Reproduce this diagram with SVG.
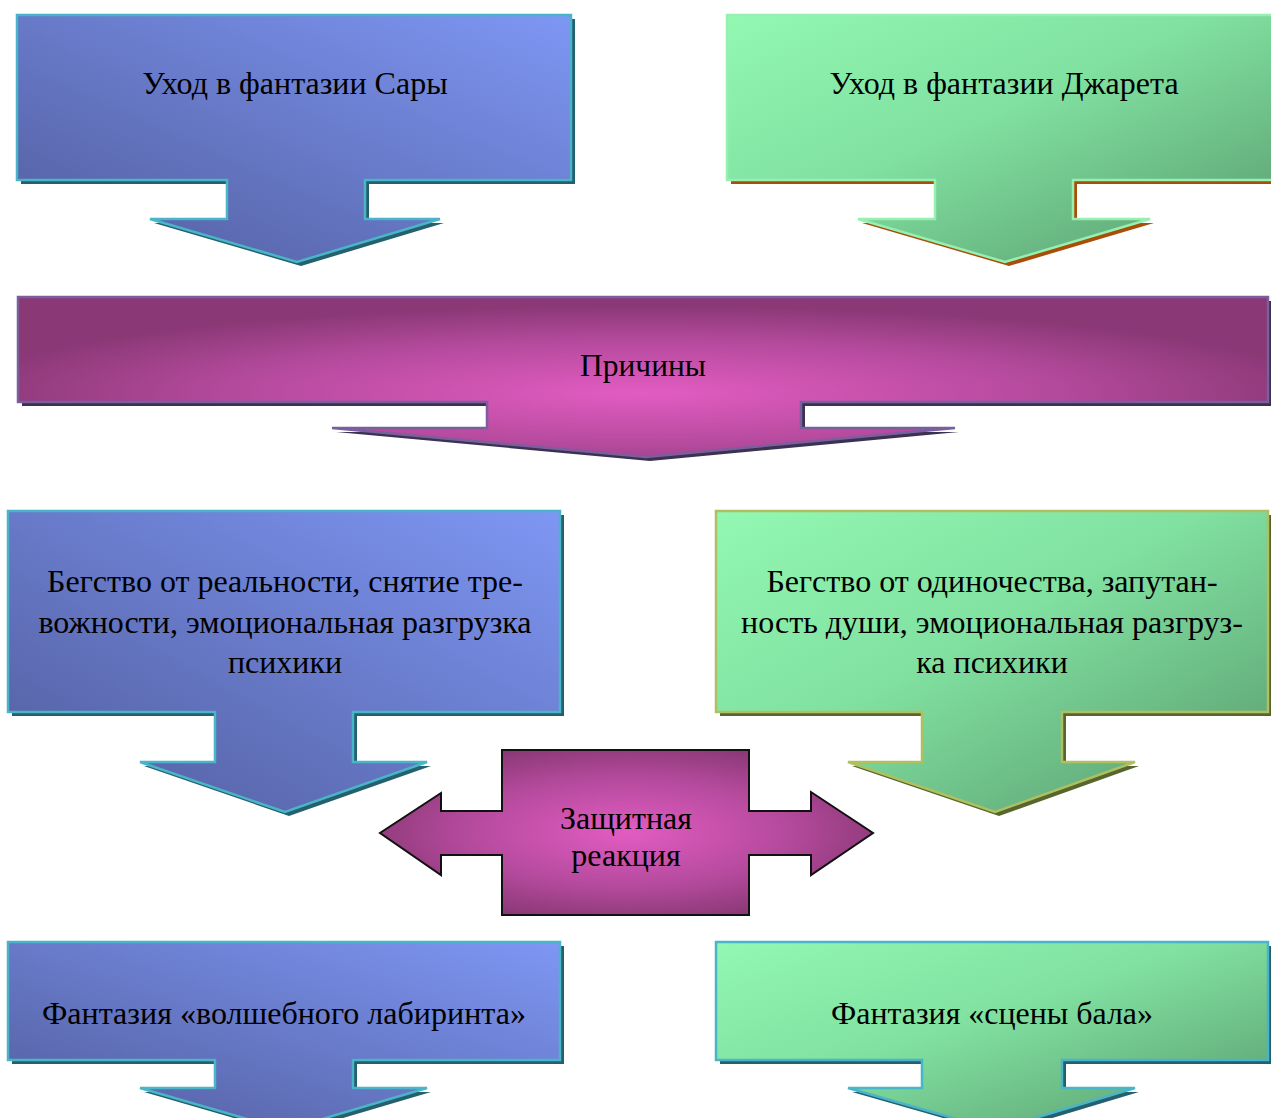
<svg xmlns="http://www.w3.org/2000/svg" width="1271" height="1118" viewBox="0 0 1271 1118">
<defs>
<linearGradient id="gBlue" x1="1" y1="0" x2="0" y2="1">
<stop offset="0" stop-color="#7e97f4"/>
<stop offset="1" stop-color="#515c9c"/>
</linearGradient>
<linearGradient id="gGreen" x1="0" y1="0" x2="1" y2="1">
<stop offset="0" stop-color="#92f8b2"/>
<stop offset="0.45" stop-color="#80e0a0"/>
<stop offset="1" stop-color="#58986c"/>
</linearGradient>
<radialGradient id="gPink" cx="0.5" cy="0.6" r="0.55" fx="0.5" fy="0.6">
<stop offset="0" stop-color="#e25cc2"/>
<stop offset="0.6" stop-color="#b44a9c"/>
<stop offset="1" stop-color="#8a3876"/>
</radialGradient>
<radialGradient id="gPink2" cx="0.5" cy="0.5" r="0.55">
<stop offset="0" stop-color="#e25cc2"/>
<stop offset="0.6" stop-color="#b44a9c"/>
<stop offset="1" stop-color="#8a3876"/>
</radialGradient>
</defs>
<style>
text{font-family:"Liberation Serif","Times New Roman",serif;font-size:32px;fill:#000;text-anchor:middle}
.blue{fill:url(#gBlue);stroke:#4ab4c8;stroke-width:2.5}
.green{fill:url(#gGreen);stroke:#96f0b0;stroke-width:2.5}
.green2{fill:url(#gGreen);stroke:#b0c060;stroke-width:2.5}
.shTeal{fill:#24606e}
.shBrown{fill:#a84e08}
.shOlive{fill:#56662e}
.shDark{fill:#3a3250}
.pink{fill:url(#gPink);stroke:#7a5e9e;stroke-width:2.5}
.pinkB{fill:url(#gPink2);stroke:#111;stroke-width:2}
</style>

<g id="node-sara">
<path class="shTeal" transform="translate(4,4)" d="M17,15 H571 V180 H365 V219 H440 L297,262 L150,219 H227 V180 H17 Z"/>
<path class="blue" d="M17,15 H571 V180 H365 V219 H440 L297,262 L150,219 H227 V180 H17 Z"/>
<text x="295" y="94">Уход в фантазии Сары</text>
</g>

<g id="node-jareth">
<path class="shBrown" transform="translate(4,4)" d="M727,15 H1275 V180 H1073 V219 H1150 L1005,262 L858,219 H935 V180 H727 Z"/>
<path class="green" d="M727,15 H1275 V180 H1073 V219 H1150 L1005,262 L858,219 H935 V180 H727 Z"/>
<text x="1004" y="94">Уход в фантазии Джарета</text>
</g>

<g id="node-causes">
<path class="shDark" transform="translate(4,4)" d="M18,297 H1268 V402 H801 V428 H955 L646,457 L332,428 H487 V402 H18 Z"/>
<path class="pink" d="M18,297 H1268 V402 H801 V428 H955 L646,457 L332,428 H487 V402 H18 Z"/>
<text x="643" y="376" textLength="126" lengthAdjust="spacingAndGlyphs">Причины</text>
</g>

<g id="node-sara-cause">
<path class="shTeal" transform="translate(4,4)" d="M8,511 H560 V712 H353 V762 H427 L285,812 L140,762 H215 V712 H8 Z"/>
<path class="blue" d="M8,511 H560 V712 H353 V762 H427 L285,812 L140,762 H215 V712 H8 Z"/>
<text x="285" y="592">Бегство от реальности, снятие тре-</text>
<text x="285" y="633">вожности, эмоциональная разгрузка</text>
<text x="285" y="673">психики</text>
</g>

<g id="node-jareth-cause">
<path class="shOlive" transform="translate(4,4)" d="M716,511 H1268 V712 H1062 V762 H1135 L995,812 L848,762 H922 V712 H716 Z"/>
<path class="green2" d="M716,511 H1268 V712 H1062 V762 H1135 L995,812 L848,762 H922 V712 H716 Z"/>
<text x="992" y="592">Бегство от одиночества, запутан-</text>
<text x="992" y="633">ность души, эмоциональная разгруз-</text>
<text x="992" y="673">ка психики</text>
</g>

<g id="node-defense">
<path class="pinkB" d="M502,750 H749 V811 H811 V792 L873,833 L811,875 V855 H749 V915 H502 V855 H441 V875 L380,833 L441,793 V811 H502 Z"/>
<text x="626" y="829">Защитная</text>
<text x="626" y="866">реакция</text>
</g>

<g id="node-labyrinth">
<path class="shTeal" transform="translate(4,4)" d="M8,942 H560 V1060 H353 V1088 H427 L285,1130 L140,1088 H215 V1060 H8 Z"/>
<path class="blue" d="M8,942 H560 V1060 H353 V1088 H427 L285,1130 L140,1088 H215 V1060 H8 Z"/>
<text x="284" y="1024" textLength="484" lengthAdjust="spacingAndGlyphs">Фантазия «волшебного лабиринта»</text>
</g>

<g id="node-ball">
<path class="shTeal" transform="translate(4,4)" d="M716,942 H1268 V1060 H1062 V1088 H1135 L995,1130 L848,1088 H922 V1060 H716 Z"/>
<path class="green" style="stroke:#4ab4c8" d="M716,942 H1268 V1060 H1062 V1088 H1135 L995,1130 L848,1088 H922 V1060 H716 Z"/>
<text x="992" y="1024" textLength="322" lengthAdjust="spacingAndGlyphs">Фантазия «сцены бала»</text>
</g>

<g id="connectors"></g>
</svg>
